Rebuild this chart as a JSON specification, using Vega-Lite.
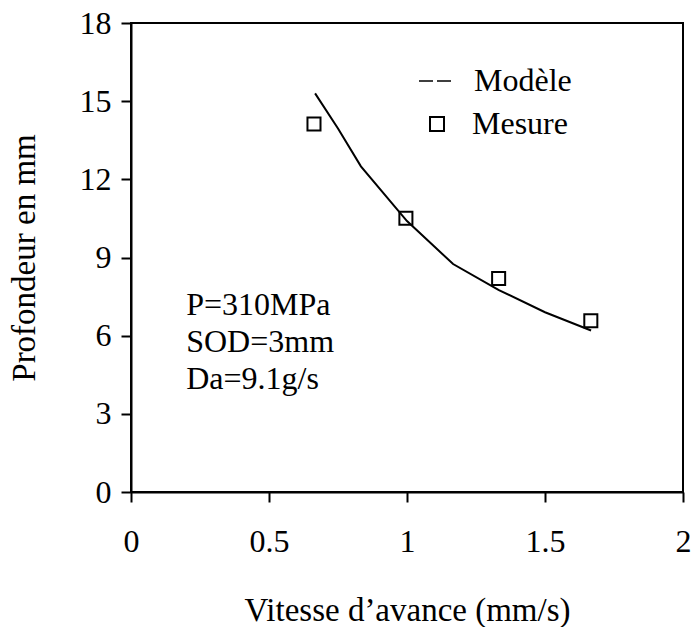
{
  "$schema": "https://vega.github.io/schema/vega-lite/v6.json",
  "width": 552,
  "height": 469,
  "autosize": {"type": "none"},
  "padding": {"left": 131, "top": 23, "right": 9, "bottom": 135},
  "background": "white",
  "datasets": {
    "modele": [
      {"vitesse": 0.667, "profondeur": 15.3},
      {"vitesse": 0.75, "profondeur": 13.95},
      {"vitesse": 0.833, "profondeur": 12.5},
      {"vitesse": 1.0, "profondeur": 10.4},
      {"vitesse": 1.167, "profondeur": 8.75},
      {"vitesse": 1.333, "profondeur": 7.75},
      {"vitesse": 1.5, "profondeur": 6.9},
      {"vitesse": 1.667, "profondeur": 6.2}
    ],
    "mesure": [
      {"vitesse": 0.663, "profondeur": 14.12, "serie": "Mesure"},
      {"vitesse": 0.996, "profondeur": 10.51, "serie": "Mesure"},
      {"vitesse": 1.332, "profondeur": 8.19, "serie": "Mesure"},
      {"vitesse": 1.666, "profondeur": 6.57, "serie": "Mesure"}
    ]
  },
  "layer": [
    {
      "data": {"name": "modele"},
      "mark": {"type": "line", "strokeWidth": 2},
      "encoding": {
        "x": {"field": "vitesse", "type": "quantitative",
              "scale": {"domain": [0, 2], "nice": false},
              "axis": {"values": [0, 0.5, 1, 1.5, 2], "format": "~g", "title": "Vitesse d’avance (mm/s)"}},
        "y": {"field": "profondeur", "type": "quantitative",
              "scale": {"domain": [0, 18], "nice": false},
              "axis": {"values": [0, 3, 6, 9, 12, 15, 18], "format": "~g", "title": "Profondeur en mm"}},
        "stroke": {
          "datum": "Modèle", "type": "nominal",
          "scale": {"domain": ["Modèle"], "range": ["black"]},
          "legend": {
            "title": null,
            "orient": "none",
            "legendX": 287,
            "legendY": 41,
            "padding": 0,
            "symbolType": "stroke",
            "symbolSize": 1024,
            "symbolStrokeWidth": 1.5,
            "symbolDash": [14, 4],
            "labelFont": "Liberation Serif",
            "labelFontSize": 32,
            "labelColor": "black",
            "labelOffset": 22
          }
        }
      }
    },
    {
      "data": {"name": "mesure"},
      "mark": {"type": "point", "filled": false, "color": "black", "strokeWidth": 2, "size": 170, "opacity": 1},
      "encoding": {
        "x": {"field": "vitesse", "type": "quantitative"},
        "y": {"field": "profondeur", "type": "quantitative"},
        "shape": {
          "field": "serie", "type": "nominal",
          "scale": {"domain": ["Mesure"], "range": ["square"]},
          "legend": {
            "title": null,
            "orient": "none",
            "legendX": 290,
            "legendY": 85,
            "padding": 0,
            "symbolSize": 196,
            "symbolStrokeColor": "black",
            "symbolStrokeWidth": 2,
            "symbolFillColor": "transparent",
            "labelFont": "Liberation Serif",
            "labelFontSize": 32,
            "labelColor": "black",
            "labelOffset": 19
          }
        }
      }
    },
    {
      "data": {"values": [{}]},
      "mark": {"type": "text", "align": "left", "baseline": "alphabetic",
               "font": "Liberation Serif", "fontSize": 32, "color": "black", "lineHeight": 37},
      "encoding": {
        "x": {"datum": 0.2, "type": "quantitative"},
        "y": {"datum": 6.8, "type": "quantitative"},
        "text": {"value": ["P=310MPa", "SOD=3mm", "Da=9.1g/s"]}
      }
    }
  ],
  "config": {
    "view": {"stroke": "black", "strokeWidth": 2},
    "axis": {
      "grid": false,
      "domainColor": "black",
      "domainWidth": 2,
      "tickColor": "black",
      "tickWidth": 2,
      "tickSize": 10,
      "labelFont": "Liberation Serif",
      "labelFontSize": 32,
      "labelColor": "black",
      "titleFont": "Liberation Serif",
      "titleFontSize": 33,
      "titleFontWeight": "normal",
      "titleColor": "black"
    },
    "axisX": {"labelPadding": 24, "titlePadding": 37, "labelFlush": false},
    "axisY": {"labelPadding": 10, "titlePadding": 38, "labelFlush": false}
  }
}
